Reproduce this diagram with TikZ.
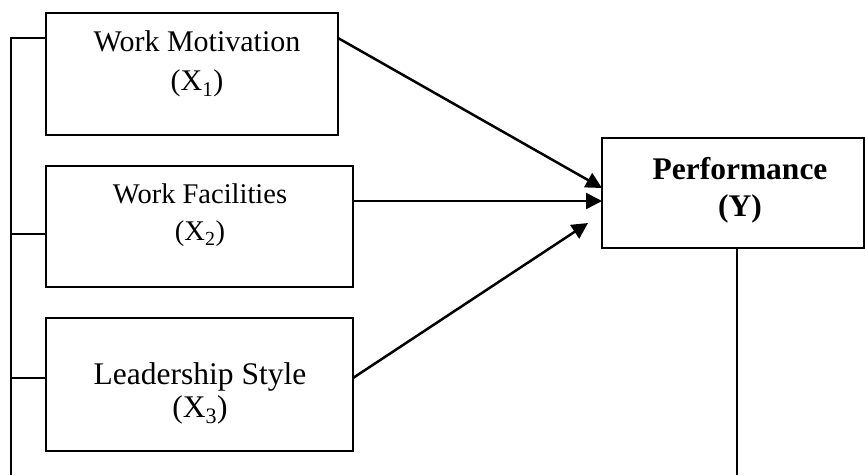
\documentclass[tikz,border=0pt]{standalone}
\usepackage{fontspec}
\setmainfont{Liberation Serif}
\usetikzlibrary{arrows.meta}
\tikzset{
  boxln/.style={draw=black, line width=2pt},
  conn/.style={draw=black, line width=2pt},
  arr/.style={draw=black, line width=2.5pt, -{Triangle[length=16pt,width=16pt]}},
  lbl/.style={align=center, inner sep=0pt, text=black},
}
\begin{document}
\begin{tikzpicture}[x=1pt,y=-1pt]
\useasboundingbox (0,0) rectangle (865,475);
% boxes
\draw[boxln] (46,13) rectangle (338,135);
\draw[boxln] (46,166) rectangle (353,287);
\draw[boxln] (46,318) rectangle (353,451);
\draw[boxln] (602,138) rectangle (864,248);
\coordinate (b1e) at (338,38);
\coordinate (b2e) at (353,201);
\coordinate (b3e) at (353,378);
\coordinate (y1) at (602,188);
\coordinate (y2) at (602,201);
\coordinate (y3) at (588,223);
% labels
\node[lbl, font=\fontsize{30}{39}\selectfont] (t1) at (197,64) {Work Motivation\\(X\textsubscript{1})};
\node[lbl, font=\fontsize{28.5}{37}\selectfont] (t2) at (200,215) {Work Facilities\\(X\textsubscript{2})};
\node[lbl, font=\fontsize{31.5}{33}\selectfont] (t3) at (200,393) {Leadership Style\\(X\textsubscript{3})};
\node[lbl, font=\fontsize{31.5}{37}\selectfont\bfseries] (ty) at (740,190) {Performance\\(Y)};
% left bracket
\coordinate (lt) at (11,38);
\coordinate (lb) at (11,475);
\coordinate (k1) at (46,38);
\coordinate (k2) at (46,234);
\coordinate (k3) at (46,378);
\coordinate (m2) at (11,234);
\coordinate (m3) at (11,378);
\draw[conn] (k1) -- (lt) -- (lb);
\draw[conn] (m2) -- (k2);
\draw[conn] (m3) -- (k3);
% right line
\coordinate (rt) at (737,248);
\coordinate (rb) at (737,475);
\draw[conn] (rt) -- (rb);
% arrows
\draw[arr] (b1e) -- (y1);
\draw[arr] (b2e) -- (y2);
\draw[arr] (b3e) -- (y3);
\end{tikzpicture}
\end{document}
